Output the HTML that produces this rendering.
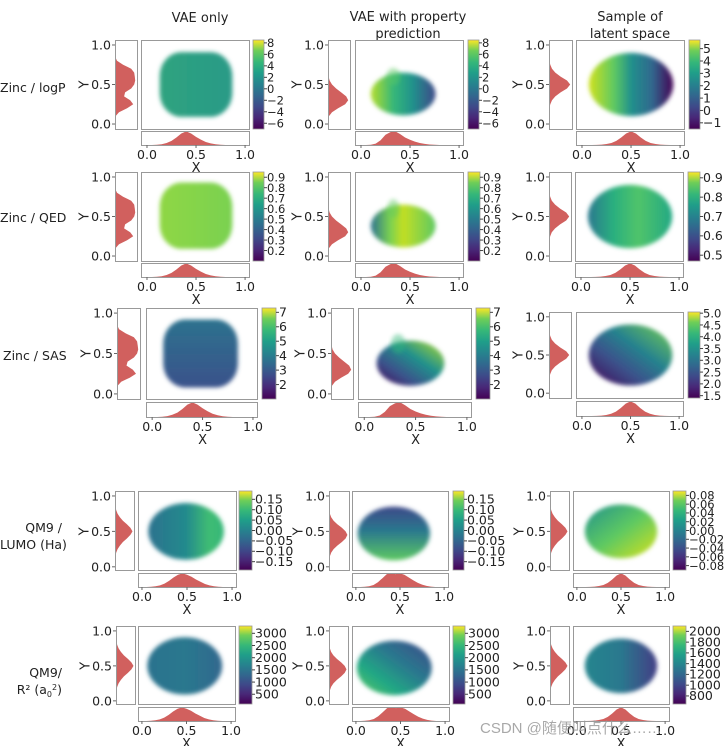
<!DOCTYPE html>
<html><head><meta charset="utf-8"><style>
html,body{margin:0;padding:0;background:#fff}
svg{display:block}
text{font-family:"DejaVu Sans","Liberation Sans",sans-serif;fill:#222}
.ttl{font-family:"Liberation Sans","Noto Sans CJK SC",sans-serif;font-size:13px}
</style></head><body>
<svg id="fig" width="724" height="746" viewBox="0 0 724 746" xmlns="http://www.w3.org/2000/svg">
<defs>
<linearGradient id="viridis" x1="0" y1="1" x2="0" y2="0">
<stop offset="0" stop-color="#440154"/><stop offset="0.13" stop-color="#482878"/><stop offset="0.25" stop-color="#3e4989"/><stop offset="0.38" stop-color="#31688e"/><stop offset="0.5" stop-color="#26828e"/><stop offset="0.63" stop-color="#1f9e89"/><stop offset="0.75" stop-color="#35b779"/><stop offset="0.88" stop-color="#6ece58"/><stop offset="1" stop-color="#fde725"/>
</linearGradient>
<filter id="fz" x="-20%" y="-20%" width="140%" height="140%"><feGaussianBlur stdDeviation="2"/></filter>
</defs>
<g class="ttl">
<text x="200" y="22" text-anchor="middle">VAE only</text>
<text x="408" y="21" text-anchor="middle">VAE with property</text>
<text x="408" y="38" text-anchor="middle">prediction</text>
<text x="630" y="21" text-anchor="middle">Sample of</text>
<text x="630" y="38" text-anchor="middle">latent space</text>
<text x="0" y="92" font-size="12.5">Zinc / logP</text>
<text x="0" y="222" font-size="12.5">Zinc / QED</text>
<text x="3" y="360" font-size="12.5">Zinc / SAS</text>
<text x="62" y="532" text-anchor="end" font-size="12.5">QM9 /</text>
<text x="0" y="549" font-size="12.5">LUMO (Ha)</text>
<text x="62" y="677" text-anchor="end" font-size="12.5">QM9/</text>
<text x="62" y="694" text-anchor="end" font-size="12.5">R² (a<tspan font-size="8" dy="3">0</tspan><tspan font-size="8" dy="-7">2</tspan><tspan dy="4">)</tspan></text>
</g>
<g id="panels"></g>
<text x="480" y="733" font-size="15" style="fill:#9a9a9a;font-family:'Liberation Sans','Noto Sans CJK SC',sans-serif;opacity:0.85">CSDN @随便叫点什么……</text>
</svg>
<script>
// ---- data arrays (21 bins over 0..1) ----
const binCenters = [0,0.05,0.1,0.15,0.2,0.25,0.3,0.35,0.4,0.45,0.5,0.55,0.6,0.65,0.7,0.75,0.8,0.85,0.9,0.95,1];
const histYBimodal = [0,0,0.03,0.2,0.6,0.9,0.75,0.45,0.5,0.8,0.95,1,0.98,0.95,0.8,0.4,0.1,0.01,0,0,0];
const histY035 = [0,0,0.05,0.2,0.5,0.85,1,0.9,0.65,0.4,0.2,0.08,0.03,0.01,0,0,0,0,0,0,0];
const histY050 = [0,0,0,0,0.02,0.06,0.14,0.3,0.55,0.85,1,0.85,0.55,0.3,0.14,0.06,0.02,0,0,0,0];
const histYqm = [0,0,0.01,0.03,0.07,0.15,0.28,0.45,0.68,0.88,1,0.88,0.68,0.45,0.28,0.15,0.07,0.03,0.01,0,0];
const histYqm2 = [0,0,0.02,0.05,0.12,0.25,0.45,0.7,0.9,1,0.9,0.7,0.45,0.25,0.12,0.05,0.02,0.01,0,0,0];
const histX040 = [0,0,0.02,0.06,0.15,0.3,0.55,0.85,1,0.85,0.6,0.4,0.22,0.12,0.05,0.02,0,0,0,0,0];
const histX035 = [0,0,0.02,0.1,0.35,0.75,0.95,1,0.8,0.55,0.38,0.25,0.15,0.08,0.04,0.02,0,0,0,0,0];
const histX050 = [0,0,0,0.01,0.03,0.07,0.15,0.3,0.55,0.85,1,0.85,0.55,0.3,0.15,0.07,0.03,0.01,0,0,0];
const histXqm1 = [0,0,0.02,0.05,0.12,0.25,0.45,0.7,0.9,1,0.9,0.75,0.55,0.38,0.22,0.12,0.05,0.02,0,0,0];
const histXqm2 = [0,0,0.02,0.06,0.15,0.35,0.65,0.95,1,0.95,1,0.9,0.7,0.5,0.32,0.18,0.08,0.03,0,0,0];
const axisTicks = [0,0.5,1];
const axisTickLabels = ["0.0","0.5","1.0"];
const cbLogP = [8,6,4,2,0,-2,-4,-6];
const cbLogPSample = [5,4,3,2,1,0,-1];
const cbQED = [0.9,0.8,0.7,0.6,0.5,0.4,0.3,0.2];
const cbQEDSample = [0.9,0.8,0.7,0.6,0.5];
const cbSAS = [7,6,5,4,3,2];
const cbSASSample = [5.0,4.5,4.0,3.5,3.0,2.5,2.0,1.5];
const cbLUMO = [0.15,0.10,0.05,0.00,-0.05,-0.10,-0.15];
const cbLUMOSample = [0.08,0.06,0.04,0.02,0.00,-0.02,-0.04,-0.06,-0.08];
const cbR2 = [3000,2500,2000,1500,1000,500];
const cbR2Sample = [2000,1800,1600,1400,1200,1000,800];

const NS='http://www.w3.org/2000/svg';
const root=document.getElementById('panels');
const defs=document.querySelector('defs');
function mk(tag,attrs,parent){const e=document.createElementNS(NS,tag);for(const k in attrs)e.setAttribute(k,attrs[k]);(parent||root).appendChild(e);return e;}
function fmt(v,dec){const s=Math.abs(v).toFixed(dec);return (v<0?'\u2212':'')+s;}

const R=[
 {my:[40,129],by:[131,145],c:[{lx:[115,137],m:[141,249],cb:[253,264]},{lx:[328,350],m:[355,463],cb:[468,479]},{lx:[549,572],m:[576,684],cb:[689,700]}],xd:[-0.061,1.04],yd:[-0.063,1.063]},
 {my:[172,261],by:[263,277],c:[{lx:[115,137],m:[141,249],cb:[253,264]},{lx:[328,350],m:[355,463],cb:[468,480]},{lx:[549,571],m:[575,683],cb:[688,700]}],xd:[-0.061,1.04],yd:[-0.063,1.063]},
 {my:[308,399],by:[402,417],c:[{lx:[117,140],m:[146,257],cb:[262,276]},{lx:[331,353],m:[358,471],cb:[476,490]},{lx:[549,571],m:[576,683],cb:[688,700],my:[312,398],by:[401,416]}],xd:[-0.061,1.04],yd:[-0.063,1.063]},
 {my:[491,570],by:[573,587],c:[{lx:[115,134],m:[138,236],cb:[239,252]},{lx:[329,349],m:[352,448],cb:[453,464]},{lx:[550,569],m:[573,669],cb:[673,686]}],xd:[-0.044,1.044],yd:[-0.045,1.07]},
 {my:[626,704],by:[707,721],c:[{lx:[116,135],m:[138,235],cb:[239,252]},{lx:[329,348],m:[352,449],cb:[453,465]},{lx:[550,569],m:[573,669],cb:[673,686]}],xd:[-0.044,1.044],yd:[-0.045,1.07]}
];
const P=[
 [{hy:histYBimodal,hx:histX040,cb:cbLogP,cr:[-7,8.5],dec:0,cl:{t:'r',x0:0.13,x1:0.87,y0:0.09,y1:0.91,g:[0,0,1,0],s:[[0,'#2ea37f'],[1,'#2a9a87']]}},
  {hy:histY035,hx:histX035,cb:cbLogP,cr:[-7,8.5],dec:0,cl:{t:'e',cx:0.43,cy:0.38,rx:0.33,ry:0.27,g:[0,0,1,0],s:[[0,'#b5de2b'],[0.35,'#35b779'],[0.65,'#21918c'],[1,'#3e4989']],blob:[0.33,0.6,0.07,0.11,'#5ec962']}},
  {hy:histY050,hx:histX050,cb:cbLogPSample,cr:[-1.5,5.7],dec:0,cl:{t:'e',cx:0.5,cy:0.5,rx:0.43,ry:0.4,g:[0,0,1,0],s:[[0,'#d0e11c'],[0.3,'#5ec962'],[0.5,'#21918c'],[0.75,'#31688e'],[1,'#440154']]}}],
 [{hy:histYBimodal,hx:histX040,cb:cbQED,cr:[0.1,0.95],dec:1,cl:{t:'r',x0:0.13,x1:0.87,y0:0.09,y1:0.93,g:[0,0,1,0],s:[[0,'#8fd744'],[1,'#7ad151']]}},
  {hy:histY035,hx:histX035,cb:cbQED,cr:[0.1,0.95],dec:1,cl:{t:'e',cx:0.43,cy:0.38,rx:0.33,ry:0.27,g:[0,0,1,0],s:[[0,'#2c728e'],[0.3,'#7ad151'],[0.5,'#c2df23'],[1,'#5ec962']],blob:[0.33,0.6,0.06,0.12,'#5ec962']}},
  {hy:histY050,hx:histX050,cb:cbQEDSample,cr:[0.47,0.93],dec:1,cl:{t:'e',cx:0.5,cy:0.5,rx:0.43,ry:0.4,g:[0,0,1,0],s:[[0,'#2a788e'],[0.3,'#29af7f'],[0.6,'#50c46a'],[1,'#22a884']]}}],
 [{hy:histYBimodal,hx:histX040,cb:cbSAS,cr:[1,7.3],dec:0,cl:{t:'r',x0:0.11,x1:0.85,y0:0.08,y1:0.92,g:[0,0,0,1],s:[[0,'#2c728e'],[1,'#3b528b']]}},
  {hy:histY035,hx:histX035,cb:cbSAS,cr:[1,7.3],dec:0,cl:{t:'e',cx:0.45,cy:0.38,rx:0.33,ry:0.28,g:[0,1,1,0],s:[[0,'#440154'],[0.3,'#3b528b'],[0.6,'#21918c'],[1,'#b5de2b']],blob:[0.33,0.62,0.07,0.12,'#35b779']}},
  {hy:histY050,hx:histX050,cb:cbSASSample,cr:[1.4,5.05],dec:1,cl:{t:'e',cx:0.5,cy:0.5,rx:0.43,ry:0.4,g:[0,1,1,0],s:[[0,'#440154'],[0.35,'#3b528b'],[0.6,'#26828e'],[1,'#7ad151']]}}],
 [{hy:histYqm,hx:histXqm1,cb:cbLUMO,cr:[-0.19,0.19],dec:2,cl:{t:'e',cx:0.49,cy:0.5,rx:0.42,ry:0.4,g:[0,0,1,0],s:[[0,'#2c728e'],[0.5,'#238a8d'],[0.8,'#3fbc73'],[1,'#35b779']]}},
  {hy:histYqm2,hx:histXqm2,cb:cbLUMO,cr:[-0.19,0.19],dec:2,cl:{t:'e',cx:0.43,cy:0.47,rx:0.41,ry:0.38,g:[0,0,0,1],s:[[0,'#3e4989'],[0.45,'#2a788e'],[1,'#5ec962']]}},
  {hy:histYqm,hx:histX050,cb:cbLUMOSample,cr:[-0.09,0.09],dec:2,cl:{t:'e',cx:0.5,cy:0.5,rx:0.41,ry:0.38,g:[0,0,1,1],s:[[0,'#21918c'],[0.5,'#5ec962'],[1,'#d8e219']]}}],
 [{hy:histYqm,hx:histXqm1,cb:cbR2,cr:[100,3300],dec:0,cl:{t:'e',cx:0.48,cy:0.5,rx:0.42,ry:0.41,g:[0,0,1,0],s:[[0,'#2c728e'],[0.5,'#2a788e'],[1,'#31688e']]}},
  {hy:histYqm2,hx:histXqm2,cb:cbR2,cr:[100,3300],dec:0,cl:{t:'e',cx:0.43,cy:0.47,rx:0.42,ry:0.39,g:[0,1,1,0],s:[[0,'#5ec962'],[0.3,'#22a884'],[0.6,'#2a788e'],[1,'#3e4989']]}},
  {hy:histYqm,hx:histX050,cb:cbR2Sample,cr:[650,2100],dec:0,cl:{t:'e',cx:0.5,cy:0.5,rx:0.41,ry:0.39,g:[0,0,1,0],s:[[0,'#25858e'],[0.5,'#2a788e'],[1,'#433e85']]}}]
];

let gid=0;
R.forEach((row,ri)=>{
 row.c.forEach((c,ci)=>{
  const p=P[ri][ci];
  const my=c.my||row.my, by=c.by||row.by;
  const xs=v=>c.m[0]+(v-row.xd[0])/(row.xd[1]-row.xd[0])*(c.m[1]-c.m[0]);
  const ys=v=>my[1]-(v-row.yd[0])/(row.yd[1]-row.yd[0])*(my[1]-my[0]);
  const g=mk('g',{});
  
  
  const cl=p.cl; const id='cg'+(gid++);
  const lg=mk('linearGradient',{id:id,x1:cl.g[0],y1:cl.g[1],x2:cl.g[2],y2:cl.g[3]},defs);
  cl.s.forEach(s=>mk('stop',{offset:s[0],'stop-color':s[1]},lg));
  let shape;
  if(cl.t==='r'){
   shape=mk('rect',{x:xs(cl.x0),y:ys(cl.y1),width:xs(cl.x1)-xs(cl.x0),height:ys(cl.y0)-ys(cl.y1),rx:22,ry:24,fill:'url(#'+id+')',filter:'url(#fz)'},g);
  } else {
   shape=mk('ellipse',{cx:xs(cl.cx),cy:ys(cl.cy),rx:xs(cl.cx+cl.rx)-xs(cl.cx),ry:ys(cl.cy)-ys(cl.cy+cl.ry),fill:'url(#'+id+')',filter:'url(#fz)'},g);
  }
  
  
  if(cl.blob){const b=mk('ellipse',{cx:xs(cl.blob[0]),cy:ys(cl.blob[1]),rx:xs(cl.blob[0]+cl.blob[2])-xs(cl.blob[0]),ry:ys(cl.blob[1])-ys(cl.blob[1]+cl.blob[3]),fill:cl.blob[4],opacity:0.45,filter:'url(#fz)'},g);
   
   }
  const mf=mk('rect',{x:c.m[0]+0.5,y:my[0]+0.5,width:c.m[1]-c.m[0],height:my[1]-my[0],fill:'none',stroke:'#999','stroke-width':1},g);
  
  
  const lw=c.lx[1]-c.lx[0];
  let d='M'+c.lx[0]+','+ys(binCenters[0]);
  binCenters.forEach((b,i)=>{d+=' L'+(c.lx[0]+p.hy[i]*lw*0.92).toFixed(1)+','+ys(b).toFixed(1);});
  d+=' L'+c.lx[0]+','+ys(1)+' Z';
  const hl=mk('path',{d:d,fill:'#d1605e'},g);
  
  
  const lf=mk('rect',{x:c.lx[0]+0.5,y:my[0]+0.5,width:lw,height:my[1]-my[0],fill:'none',stroke:'#999'},g);
  
  
  const bh=by[1]-by[0];
  let d2='M'+xs(0)+','+by[1];
  binCenters.forEach((b,i)=>{d2+=' L'+xs(b).toFixed(1)+','+(by[1]-p.hx[i]*bh*0.97).toFixed(1);});
  d2+=' L'+xs(1)+','+by[1]+' Z';
  const hb=mk('path',{d:d2,fill:'#d1605e'},g);
  
  
  const bf=mk('rect',{x:c.m[0]+0.5,y:by[0]+0.5,width:c.m[1]-c.m[0],height:bh,fill:'none',stroke:'#999'},g);
  
  
  axisTicks.forEach((t,i)=>{
   const tx=mk('text',{x:xs(t),y:by[1]+14,'font-size':12.5,'text-anchor':'middle'},g);
   tx.textContent=axisTickLabels[i];
   
   
   const tm=mk('line',{x1:xs(t),x2:xs(t),y1:by[1],y2:by[1]+3,stroke:'#666'},g);
   
   
   const ty=mk('text',{x:c.lx[0]-4,y:ys(t)+4.5,'font-size':12.5,'text-anchor':'end'},g);
   ty.textContent=axisTickLabels[i];
   
   
   const tn=mk('line',{x1:c.lx[0]-3,x2:c.lx[0],y1:ys(t),y2:ys(t),stroke:'#666'},g);
   
   
  });
  const xl=mk('text',{x:xs(0.5),y:by[1]+27,'font-size':13,'text-anchor':'middle'},g);
  xl.textContent='X';
  
  
  const yx=c.lx[0]-31, yy=ys(0.5);
  const yl=mk('text',{x:yx,y:yy,'font-size':13,'text-anchor':'middle',transform:'rotate(-90 '+yx+' '+yy+')',dy:4.5},g);
  yl.textContent='Y';
  
  
  const cbw=c.cb[1]-c.cb[0];
  const cbr=mk('rect',{x:c.cb[0],y:my[0],width:cbw,height:my[1]-my[0],fill:'url(#viridis)',stroke:'#999','stroke-width':0.8},g);
  
  
  const cs=v=>my[1]-(v-p.cr[0])/(p.cr[1]-p.cr[0])*(my[1]-my[0]);
  const fs=p.cb.length>7?11.5:12.5;
  p.cb.forEach(v=>{
   const yv=cs(v);
   const tk=mk('line',{x1:c.cb[1],x2:c.cb[1]+3,y1:yv,y2:yv,stroke:'#444'},g);
   
   
   const tl=mk('text',{x:c.cb[1]+3,y:yv+4.3,'font-size':fs},g);
   tl.textContent=fmt(v,p.dec);
   
   
  });
 });
});
</script>
</body></html>
